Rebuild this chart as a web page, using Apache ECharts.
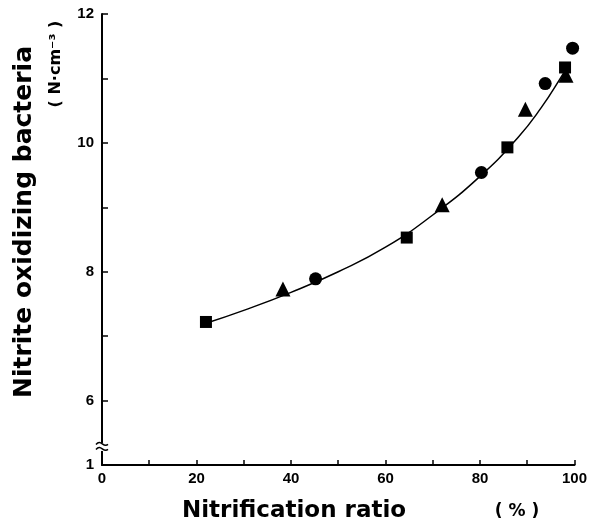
<!DOCTYPE html>
<html>
<head>
<meta charset="utf-8">
<script src="https://cdn.jsdelivr.net/npm/echarts@6/dist/echarts.min.js"></script>
<style>
  html, body { margin: 0; padding: 0; background: #fff; }
  #main { width: 590px; height: 528px; }
</style>
</head>
<body>
<div id="main"></div>
<script>
// data
const squares = [[22, 7.22], [64.5, 8.53], [85.8, 9.93], [98, 11.17]];
const triangles = [[38.3, 7.73], [72, 9.04], [89.6, 10.52], [98.2, 11.05]];
const circles = [[45.2, 7.89], [80.3, 9.54], [93.8, 10.92], [99.6, 11.47]];
const fitCurve = [[22, 7.2], [30, 7.4], [40, 7.68], [50, 8.0], [60, 8.38], [70, 8.88],
                  [80, 9.48], [88, 10.08], [93, 10.55], [97, 11.0], [99, 11.25]];
// y axis is broken: bottom value stands for 1
const yLabels = { 5: '1', 6: '6', 8: '8', 10: '10', 12: '12' };
const xLabels = [0, 20, 40, 60, 80, 100];

const chart = echarts.init(document.getElementById('main'));
const font = 'Liberation Sans, Arial, sans-serif';
const titleFont = '"DejaVu Sans", sans-serif';

const option = {
    animation: false,
    grid: { left: 102, right: 15, top: 14, bottom: 63 },
    xAxis: {
        type: 'value', min: 0, max: 100, interval: 10,
        axisLine: { lineStyle: { color: '#000', width: 2 } },
        axisTick: { inside: true, length: 5, lineStyle: { color: '#000', width: 1.5 } },
        splitLine: { show: false },
        axisLabel: {
            color: '#000', fontFamily: font, fontSize: 15, fontWeight: 'bold', margin: 6,
            formatter: v => xLabels.indexOf(v) >= 0 ? String(v) : ''
        }
    },
    yAxis: {
        type: 'value', min: 5, max: 12, interval: 1,
        axisLine: { show: true, lineStyle: { color: '#000', width: 2 } },
        axisTick: { show: true, inside: true, length: 6, lineStyle: { color: '#000', width: 1.5 } },
        splitLine: { show: false },
        axisLabel: {
            color: '#000', fontFamily: font, fontSize: 15, fontWeight: 'bold', margin: 8,
            formatter: v => yLabels[v] || ''
        }
    },
    series: [
        {
            type: 'line', data: fitCurve, smooth: true, symbol: 'none',
            lineStyle: { color: '#000', width: 1.5 }, z: 1
        },
        {
            type: 'scatter', data: squares, symbol: 'rect', symbolSize: 12,
            itemStyle: { color: '#000', opacity: 1 }, z: 3
        },
        {
            type: 'scatter', data: triangles, symbol: 'triangle', symbolSize: 15,
            itemStyle: { color: '#000', opacity: 1 }, z: 3
        },
        {
            type: 'scatter', data: circles, symbol: 'circle', symbolSize: 13,
            itemStyle: { color: '#000', opacity: 1 }, z: 3
        }
    ]
};
chart.setOption(option);

// axis titles and the axis break mark
const origin = chart.convertToPixel({ gridIndex: 0 }, [0, 5]);
const brk = chart.convertToPixel({ gridIndex: 0 }, [0, 5.28]);
const bx = origin[0], by = brk[1];
function wave(dy) {
    return {
        type: 'bezierCurve', z: 11,
        shape: { x1: bx - 6, y1: by + dy, x2: bx + 6, y2: by + dy,
                 cpx1: bx - 1, cpy1: by + dy - 6, cpx2: bx + 1, cpy2: by + dy + 4 },
        style: { stroke: '#000', lineWidth: 1.5, fill: null }
    };
}
function label(text, x, y, size, rot) {
    return {
        type: 'text', x: x, y: y, rotation: rot || 0,
        style: { text: text, font: 'bold ' + size + 'px ' + titleFont, fill: '#000',
                 align: 'center', verticalAlign: 'middle' }
    };
}
chart.setOption({
    graphic: [
        {
            type: 'rect', shape: { x: bx - 4, y: by - 4, width: 8, height: 8 },
            style: { fill: '#fff' }, z: 10
        },
        wave(-2.5),
        wave(2.5),
        label('Nitrification ratio', 294, 511, 23),
        label('( % )', 517, 512, 17),
        label('Nitrite oxidizing bacteria', 24, 222, 25, Math.PI / 2),
        label('( N·cm⁻³ )', 56, 64, 16, Math.PI / 2)
    ]
});

window.addEventListener('resize', function () {
    chart.resize();
});
</script>
</body>
</html>
